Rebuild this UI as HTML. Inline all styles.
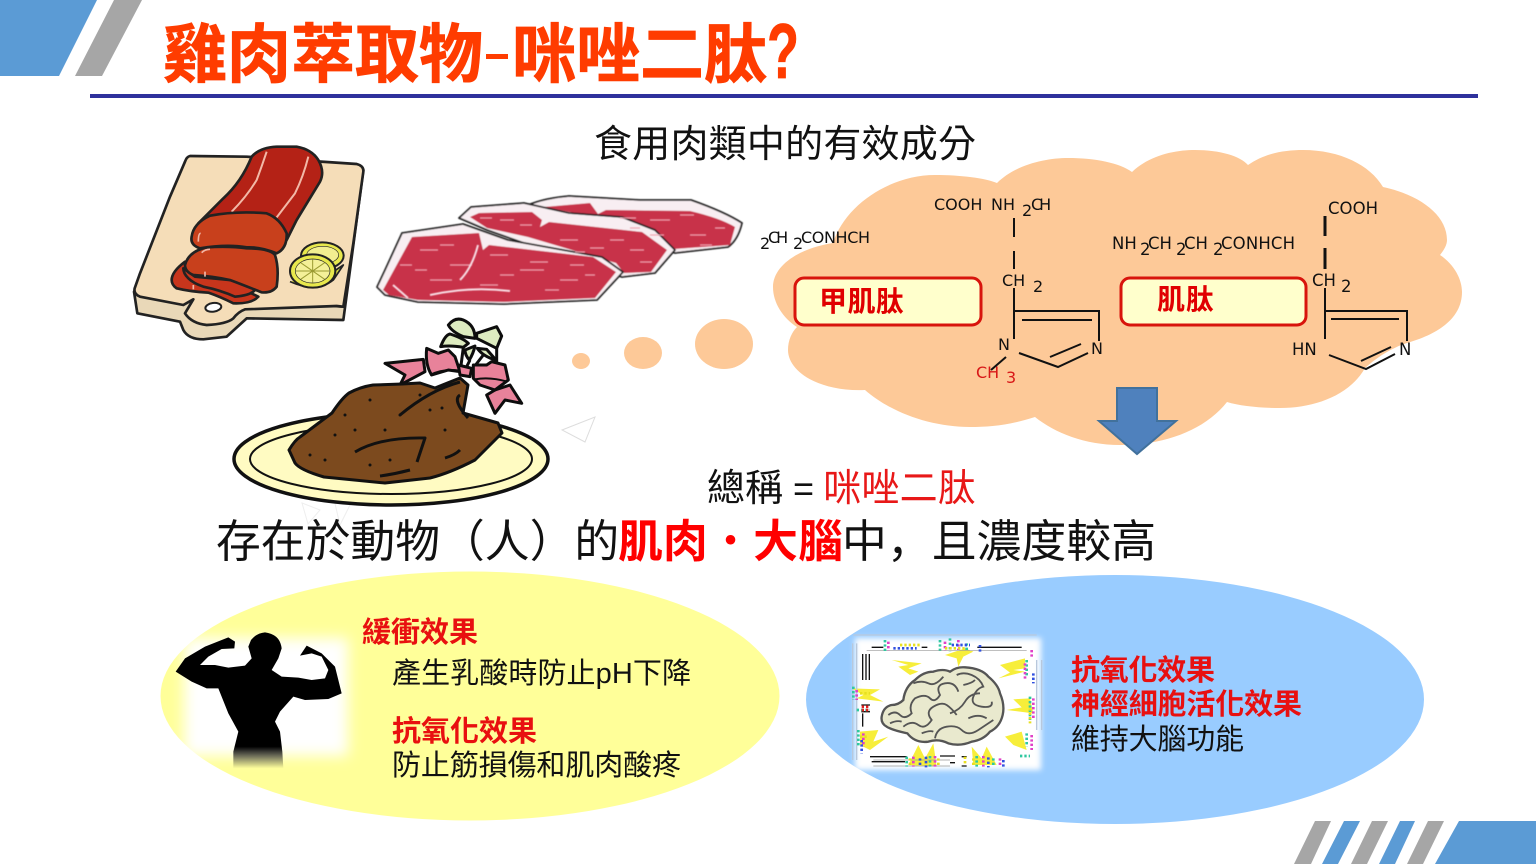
<!DOCTYPE html>
<html><head><meta charset="utf-8">
<style>
html,body{margin:0;padding:0;background:#fff;width:1536px;height:864px;overflow:hidden}
svg{display:block}
.z{font-family:"Liberation Sans","Noto Sans CJK TC",sans-serif}
.f{font-family:"DejaVu Sans",sans-serif;font-size:16px;fill:#111}
.g{font-size:16.5px}
</style></head><body>
<svg width="1536" height="864" viewBox="0 0 1536 864" xmlns="http://www.w3.org/2000/svg">
<defs><filter id="b" x="-20%" y="-20%" width="140%" height="140%"><feGaussianBlur stdDeviation="7"/></filter>
<filter id="b2" x="-5%" y="-5%" width="110%" height="110%"><feGaussianBlur stdDeviation="0.5"/></filter>
<filter id="b3" x="-10%" y="-10%" width="120%" height="120%"><feGaussianBlur stdDeviation="3"/></filter>
<linearGradient id="fade" x1="0" y1="0" x2="0" y2="1"><stop offset="0.84" stop-color="#000"/><stop offset="1" stop-color="#000" stop-opacity="0"/></linearGradient></defs>

<!-- header -->
<polygon points="0,0 97,0 59,76 0,76" fill="#5B9BD5"/>
<polygon points="114,0 142,0 102,76 75,76" fill="#A6A6A6"/>
<rect x="90" y="94" width="1388" height="4" fill="#2E319C"/>
<g class="z" font-weight="700" font-size="64" fill="#FF3C00" stroke="#FF3C00" stroke-width="0.800">
<text x="163" y="77" textLength="320" lengthAdjust="spacingAndGlyphs">雞肉萃取物</text>
<rect x="486" y="54" width="22" height="5" stroke="none"/>
<text x="512" y="77" textLength="256" lengthAdjust="spacingAndGlyphs">咪唑二肽</text>
<text x="767" y="78" font-size="78" textLength="32" lengthAdjust="spacingAndGlyphs">?</text>
</g>
<text class="z" x="594" y="157" font-size="38" textLength="382" fill="#111">食用肉類中的有效成分</text>

<!-- cloud -->
<path fill="#FDC998" d="M833,243 C845,205 890,175 935,175 C960,175 985,178 997,183 C1015,165 1045,158 1068,158 C1095,158 1120,163 1132,172 C1150,155 1175,150 1195,150 C1220,150 1240,156 1248,165 C1265,153 1285,150 1303,150 C1340,150 1370,165 1383,187 C1420,195 1447,215 1447,240 C1447,245 1444,250 1440,255 C1455,265 1462,280 1462,292 C1462,320 1435,335 1407,343 Q1385,350 1365,368 C1350,395 1315,408 1280,408 C1260,408 1240,406 1227,402 C1205,430 1165,445 1120,445 C1085,445 1055,433 1035,417 C1010,425 990,427 970,427 C930,427 890,412 865,390 C820,392 788,372 788,350 C788,340 792,332 797,327 C783,318 773,303 773,287 C773,265 800,248 833,243Z"/>
<g fill="#FDC998">
<ellipse cx="581" cy="361" rx="9" ry="8"/>
<ellipse cx="643" cy="353" rx="19" ry="16"/>
<ellipse cx="724" cy="344" rx="29" ry="25"/>
</g>
<polygon points="562,430 595,417 585,442" fill="#fff" stroke="#ddd" stroke-width="1"/>
<polygon points="302,503 320,510 308,524" fill="none" stroke="#eee"/>
<polygon points="333,495 350,505 340,525" fill="none" stroke="#eee"/>

<!-- formula 1 -->
<g class="f">
<text x="934" y="210">COOH</text><text x="991" y="210">NH</text><text x="1022" y="216">2</text><text x="1031" y="210" letter-spacing="-3">CH</text>
<text x="760" y="249">2</text><text x="768" y="243" letter-spacing="-3">CH</text><text x="793" y="249">2</text><text x="801" y="243" textLength="69">CONHCH</text>
<text x="1002" y="286">CH</text><text x="1033" y="292">2</text>
<text x="998" y="350">N</text><text x="1091" y="354">N</text>
<text x="976" y="378" style="fill:#D81818">CH</text><text x="1006" y="383" style="fill:#D81818">3</text>
</g>
<!-- formula 2 -->
<g class="f" style="font-size:16.5px">
<text x="1112" y="249">NH</text><text x="1140" y="255">2</text><text x="1148" y="249">CH</text><text x="1176" y="255">2</text><text x="1184" y="249">CH</text><text x="1213" y="255">2</text><text x="1221" y="249" textLength="74">CONHCH</text>
<text x="1328" y="214" textLength="50">COOH</text>
<text x="1312" y="286">CH</text><text x="1341" y="292">2</text>
<text x="1292" y="355">HN</text><text x="1399" y="355">N</text>
</g>
<g stroke="#111" stroke-width="2" fill="none">
<path d="M1014,218V237M1014,251V269M1014,288V339M1014,311H1099V341M1022,320H1092M1019,353L1058,367L1088,353M1050,357L1081,344"/>
<path d="M1006,357L991,370"/>
<path d="M1325,216V236M1325,248V269" stroke-width="3"/>
<path d="M1325,288V339M1325,311H1407V341M1331,319H1399M1329,355L1366,369L1395,354M1361,361L1391,347"/>
</g>
<rect x="795" y="278" width="186" height="47" rx="9" fill="#FFFFCC" stroke="#D8140C" stroke-width="3"/>
<rect x="1121" y="278" width="185" height="47" rx="9" fill="#FFFFCC" stroke="#D8140C" stroke-width="3"/>
<g class="z" font-weight="700" font-size="28" fill="#E00000">
<text x="819" y="311" textLength="85">甲肌肽</text>
<text x="1157" y="309" textLength="57">肌肽</text>
</g>
<polygon points="1117,388 1157,388 1157,421 1176,421 1137,454 1099,421 1117,421" fill="#4F81BD" stroke="#41719C" stroke-width="2"/>

<!-- board -->
<g transform="translate(130,140) scale(0.33333)" stroke="#222" stroke-width="8" stroke-linejoin="round" filter="url(#b2)">
<path d="M12,455 L22,520 L150,545 L160,570 Q175,598 220,598 L290,590 L350,535 L640,540 L700,90 L640,500 Z" fill="#E9D8B8"/>
<path d="M180,48 L350,50 L680,72 Q702,78 700,95 L670,310 L640,500 L620,498 L345,508 Q325,515 310,535 Q290,552 230,555 Q185,550 165,520 L190,478 L160,495 L30,470 Q10,462 14,445 L30,400 L120,170 L165,65 Q170,50 180,48Z" fill="#F5DDB8"/>
<ellipse cx="250" cy="502" rx="24" ry="13" fill="#fff" transform="rotate(-8 250 502)" stroke-width="6"/>
<path d="M365,50 Q390,22 440,20 L500,20 Q545,28 565,60 Q585,95 570,125 L500,240 L470,300 L205,250 L280,175 Q335,125 365,50Z" fill="#B42412"/>
<path d="M410,35 Q395,80 380,120 Q350,170 305,215M535,50 Q520,110 495,160 L440,232" stroke="#F2B8A8" stroke-width="6" fill="none"/>
<path d="M125,420 Q125,395 165,365 L385,470 Q365,492 310,490 Q270,470 235,458 Q180,455 140,445 Q125,435 125,420Z" fill="#C8361C"/>
<path d="M160,385 L195,410 L300,420 L380,440 Q375,465 315,470 Q270,450 220,440 Q190,430 175,415 Q160,400 160,385Z" fill="#C8361C"/>
<path d="M165,375 Q175,335 230,322 Q300,318 350,325 Q420,325 435,345 Q448,385 440,440 Q425,460 395,457 Q340,435 300,420 Q240,408 190,405 Q165,395 165,375Z" fill="#C8401E"/>
<path d="M185,290 Q190,250 240,227 Q320,212 410,220 Q450,235 470,280 Q472,325 440,340 Q390,320 350,322 Q290,312 210,325 Q180,315 185,290Z" fill="#C8401E"/>
<path d="M205,305 Q205,280 212,280 M215,338 Q225,328 240,328 M225,395 V410 M190,435V448" stroke="#F2B8A8" stroke-width="5" fill="none"/>
<ellipse cx="577" cy="347" rx="64" ry="40" fill="#E8E84E" stroke-width="6"/>
<ellipse cx="578" cy="345" rx="48" ry="26" fill="#F2EE90" stroke-width="2"/>
<path d="M480,425 Q560,460 610,420 L640,375 L610,395" fill="#D8DC40" stroke-width="5"/>
<ellipse cx="548" cy="393" rx="68" ry="50" fill="#E8E84E" stroke-width="6"/>
<ellipse cx="548" cy="393" rx="52" ry="36" fill="#F4F098" stroke-width="2"/>
<path d="M548,358V428M498,393H598M512,368L584,418M584,368L512,418" stroke="#9A9A30" stroke-width="3"/>
</g>

<!-- steaks -->
<g stroke="#222" stroke-width="1.800" stroke-linejoin="round" filter="url(#b2)">
<path d="M528,205 Q545,198 569,196 L640,200 L691,200 Q725,212 742,223 Q738,240 728,247 L675,253 L600,230Z" fill="#F8EEF2"/>
<path d="M544,207 L590,203 L598,214 L606,210 L690,211 Q720,218 735,227 L730,245 L674,249 L600,218Z" fill="#C8304A" stroke="none"/>
<path d="M459,218 L471,207 L524,203 L569,213 L622,217 L655,230 L675,250 L655,273 L622,277 L600,270 L487,230Z" fill="#F8EEF2"/>
<path d="M470,217 L479,213 L532,212 L542,220 L540,227 L549,222 L642,232 L667,250 L651,272 L624,273 L616,263 L528,237 L487,228Z" fill="#C8304A" stroke="none"/>
<path d="M377,287 L385,270 L402,233 L463,224 L508,240 L602,257 L623,272 L597,300 L504,304 L418,302 L385,295Z" fill="#F8EEF2"/>
<path d="M383,290 L412,237 L479,233 L483,250 L489,245 L593,257 L616,272 L595,298 L504,302 L418,300 L389,295Z" fill="#C8304A" stroke="none"/>
</g>
<g stroke="#EFA6B4" stroke-width="1.300" fill="none" filter="url(#b2)">
<path d="M420,250h18M450,265h22M490,255h18M520,270h24M430,280h22M480,285h18M560,280h18M530,262h18M570,265h14M400,265h12M415,270h12M440,245h14M460,290h12M500,275h14M545,290h14M585,275h10M575,252h10"/>
<path d="M500,220h14M560,240h18M590,248h14M630,250h14M640,262h12M610,240h14M480,218h12M520,225h12"/>
<path d="M650,220h20M690,235h16M620,218h16M700,245h12M680,215h14M650,235h14M715,228h10M630,228h10"/>
<path d="M430,295 Q470,286 510,291M478,245 Q472,268 460,280M393,285 L408,298" stroke="#F8DDE4" stroke-width="2"/>
</g>

<!-- chicken -->
<ellipse cx="391" cy="459" rx="157" ry="46" fill="#FFFBC2" stroke="#111" stroke-width="3.500"/>
<ellipse cx="391" cy="459" rx="141" ry="35" fill="none" stroke="#111" stroke-width="2"/>
<g transform="translate(380,310) scale(0.33333)" stroke="#111" stroke-width="9" stroke-linejoin="round" filter="url(#b2)">
<path d="M15,160 L130,148 L135,185 L60,225 L75,195 Z" fill="#E8829A"/>
<path d="M345,240 L390,225 L425,280 L375,270 L345,310 L320,255Z" fill="#E8829A"/>
<path d="M250,112 L240,190 M270,150 L250,190 M310,135 L275,180 M350,115 L350,165" fill="none"/>
<path d="M140,115 L175,130 L205,120 L225,140 L240,185 L205,180 L155,195 Q135,165 140,115Z" fill="#E8829A"/>
<path d="M235,165 L275,175 L270,200 L240,195Z" fill="#E8829A"/>
<path d="M280,165 L320,165 L335,155 L375,165 L385,210 L345,240 L300,225 L280,205Z" fill="#E8829A"/>
<path d="M285,208 Q330,200 382,215" fill="none" stroke-width="6"/>
<path d="M150,195 Q190,175 238,182" fill="none" stroke-width="6"/>
<g fill="#DDEBC0">
<path d="M205,45 Q225,20 250,30 Q285,45 285,85 L250,80 Q215,65 205,45Z"/>
<path d="M290,70 L350,50 L365,78 L350,115 Q320,100 290,85Z"/>
<path d="M182,110 Q195,75 210,72 Q250,85 265,100 L250,112 Q210,105 182,110Z"/>
<path d="M255,120 L285,108 Q280,130 268,150 Q255,135 255,120Z"/>
<path d="M292,115 L320,118 L348,150 Q310,140 292,115Z"/>
</g>
</g>
<g stroke="#111" stroke-width="3" stroke-linejoin="round">
<path d="M289,450 Q295,440 300,437 L332,413 Q342,398 349,393 Q360,387 373,385 L402,384 L420,383 L435,388 L460,378 L468,385 L463,413 L498,423 L502,433 L475,460 Q450,473 430,478 L385,483 L324,477 Q300,470 295,463Z" fill="#7C4A1E"/>
<path d="M460,382 Q430,390 400,415 M460,395 Q452,400 468,418 M355,452 Q380,437 425,438 L417,462 M380,476 Q395,474 410,470 M445,458 Q455,455 460,450" fill="none"/>
<g stroke="none" fill="#111"><circle cx="345" cy="415" r="1.500"/><circle cx="370" cy="400" r="1.500"/><circle cx="400" cy="415" r="1.500"/><circle cx="335" cy="435" r="1.500"/><circle cx="310" cy="455" r="1.500"/><circle cx="325" cy="460" r="1.500"/><circle cx="385" cy="430" r="1.500"/><circle cx="430" cy="410" r="1.500"/><circle cx="442" cy="408" r="1.500"/><circle cx="390" cy="460" r="1.500"/><circle cx="355" cy="430" r="1.500"/><circle cx="445" cy="430" r="1.500"/><circle cx="370" cy="465" r="1.500"/><circle cx="420" cy="395" r="1.500"/></g>
</g>

<!-- central text -->
<g class="z" fill="#111">
<text x="707" y="501" font-size="38" textLength="76">總稱</text>
<text x="793" y="501" font-size="36">=</text>
<text x="823" y="501" font-size="38" textLength="153" fill="#E81818">咪唑二肽</text>
<text x="216" y="557" font-size="44.800">存在於動物（人）的</text>
<text x="618" y="557" font-size="44.800" font-weight="700" fill="#FF0000" textLength="225">肌肉<tspan font-weight="400">・</tspan>大腦</text>
<text x="842" y="557" font-size="44.800" textLength="314">中<tspan style="font-family:'Noto Sans CJK SC',sans-serif">，</tspan>且濃度較高</text>
</g>

<!-- ellipses -->
<ellipse cx="470" cy="696" rx="309.500" ry="124.500" fill="#FFFF99"/>
<ellipse cx="1115" cy="699.500" rx="309" ry="124.500" fill="#99CCFF"/>

<!-- muscle -->
<rect x="184" y="638" width="164" height="118" fill="#fff" filter="url(#b)"/>
<g transform="translate(165,625) scale(0.33333)">
<path d="M300,22 Q345,28 350,70 L340,100 L320,135 L350,155 L400,158 L440,165 L480,160 L490,135 L470,95 L440,85 L405,92 L425,62 L470,85 L510,125 L530,205 L490,222 L420,225 L385,215 L345,260 L330,290 L345,320 L352,380 L355,430 L205,430 L205,380 L220,320 L190,265 L160,190 L125,190 L80,170 L32,140 L60,100 L120,65 L190,37 L210,50 L208,70 L170,72 L130,95 L105,120 L150,120 L190,128 L240,122 L260,100 L250,65 L258,45 Q275,24 300,22Z" fill="url(#fade)" filter="url(#b2)"/>
</g>

<g class="z" font-size="29" fill="#111">
<text x="362" y="642" font-weight="700" fill="#E81010" textLength="116">緩衝效果</text>
<text x="392" y="683" textLength="299">產生乳酸時防止pH下降</text>
<text x="392" y="741" font-weight="700" fill="#E81010" textLength="145">抗氧化效果</text>
<text x="392" y="775" textLength="289">防止筋損傷和肌肉酸疼</text>
<text x="1071" y="680" font-weight="700" fill="#E81010" textLength="144">抗氧化效果</text>
<text x="1071" y="714" font-weight="700" fill="#E81010" textLength="231">神經細胞活化效果</text>
<text x="1071" y="749" textLength="173">維持大腦功能</text>
</g>

<!-- brain -->
<rect x="855" y="638" width="186" height="132" fill="#fff" filter="url(#b3)"/>
<g transform="translate(850,630) scale(0.33333)">
<g fill="#F7EE3A">
<polygon points="125,90 215,100 175,115 205,125 180,135 145,110 175,105"/>
<polygon points="285,75 345,55 370,65 340,80 325,110 320,85"/>
<polygon points="450,105 525,85 525,115 490,120 525,125 445,145 480,128"/>
<polygon points="5,175 90,178 60,195 100,215 20,205 40,195"/>
<polygon points="490,208 540,205 550,250 470,240 515,232"/>
<polygon points="30,305 85,300 70,335 115,320 60,360 30,345"/>
<polygon points="465,320 515,305 530,360 490,345"/>
<polygon points="175,405 205,345 225,385 250,340 260,410"/>
<polygon points="365,350 395,385 410,350 440,405 370,405"/>
</g>
<g fill="none" stroke="#111">
<path d="M65,52H100M215,52H232M382,52H515M38,72V150M38,250V290M60,380H170M270,378H315M65,395H165M300,398H315M335,380h15M335,408h15" stroke-width="4"/>
<path d="M48,72V150M58,72V150M34,225H60M34,245H60" stroke-width="4"/>
<path d="M70,390H300M70,408H300M50,62H530" stroke="#999" stroke-width="2"/>
<path d="M8,40V390M20,40V390M560,90V300M575,90V300M10,15H560" stroke="#B8C8DC" stroke-width="4"/>
</g>
<g fill="none" stroke-width="8" stroke-dasharray="7 6">
<path d="M105,30V65M270,30V62M300,25V65M350,40V62M530,90V140M540,200V270M530,310V350M10,170V210M25,300V350M170,380V410M240,378V410M380,378V410M430,385V410M510,378H540M20,240H60" stroke="#30C8A0"/>
<path d="M115,35V62M285,35V62M325,30V60M545,60V80M525,100V150M550,205V265M545,315V360M20,180V210M40,310V350M190,380V410M255,378V410M400,378V410M450,385V410" stroke="#E040C8"/>
<path d="M130,55H200M305,45H360M390,45V65M550,130V160M35,330V370M210,385V410M228,380V412M415,382V412M460,390V412" stroke="#3050E0"/>
<path d="M150,45H215M285,55H345M30,190H60M540,235V280M30,320H50M180,385V405M265,385V410M370,385V410M345,380V400" stroke="#E8E020"/>
<path d="M35,230H60M35,240H60" stroke="#E02020"/>
</g>
<path d="M95,260 Q100,230 125,225 Q145,225 160,210 Q165,170 195,150 Q220,125 250,125 Q280,115 300,125 Q320,110 345,112 Q395,115 415,140 Q445,165 450,190 Q465,225 458,255 Q450,290 420,305 Q400,330 365,335 Q330,350 295,340 Q265,325 235,335 Q195,340 172,310 Q125,300 110,290 Q92,280 95,260Z" fill="#E9E9CE" stroke="#555" stroke-width="7"/>
<path fill="none" stroke="#555" stroke-width="5.500" d="M115,255 Q135,240 150,255 T185,250 Q175,225 195,205 Q225,190 240,205 T270,195 Q255,165 285,160 T325,185 M190,160 Q215,150 235,160 T280,140 M320,135 Q340,125 365,135 T400,170 Q380,175 370,200 T395,230 T425,215 M160,290 Q185,270 205,285 T245,270 Q225,245 250,230 T290,225 T320,255 M255,325 Q260,295 290,290 T335,300 Q355,320 385,300 T430,270 M300,250 Q330,240 345,215 T390,190 M215,310 Q240,300 250,305 M355,265 Q385,250 410,265 M120,280 Q140,270 155,275 M340,165 Q365,160 375,150"/>
</g>

<!-- footer -->
<polygon points="1315,821 1331,821 1311,864 1294,864" fill="#A6A6A6"/>
<polygon points="1344,821 1360,821 1338,864 1322,864" fill="#5B9BD5"/>
<polygon points="1372,821 1388,821 1367,864 1351,864" fill="#A6A6A6"/>
<polygon points="1400,821 1415,821 1395,864 1379,864" fill="#5B9BD5"/>
<polygon points="1428,821 1444,821 1423,864 1407,864" fill="#A6A6A6"/>
<polygon points="1459,821 1536,821 1536,864 1435,864" fill="#5B9BD5"/>
</svg>
</body></html>
